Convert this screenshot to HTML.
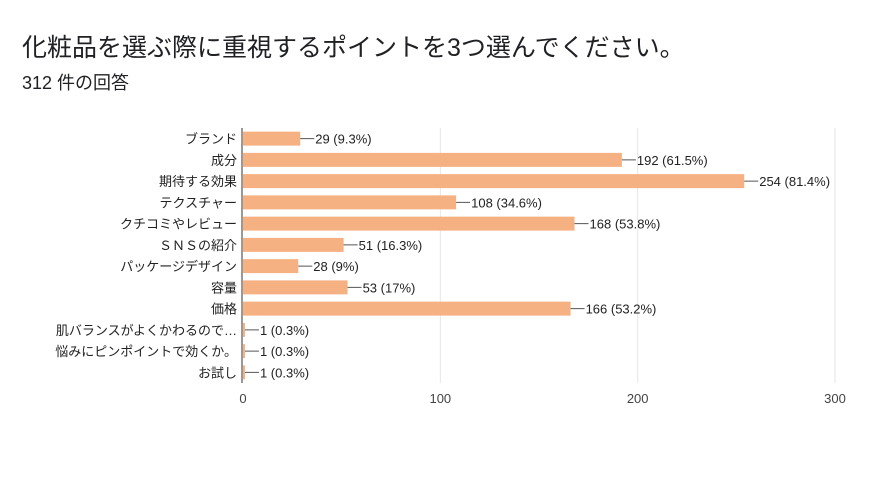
<!DOCTYPE html>
<html><head><meta charset="utf-8"><style>
body{margin:0;background:#fff;font-family:"Liberation Sans","Noto Sans CJK JP",sans-serif;}
#wrap{position:relative;width:880px;height:496px;overflow:hidden;}
</style></head><body><div id="wrap">
<div style="position:absolute;left:22px;top:28px;font-size:25px;color:#202124;white-space:nowrap;">化粧品を選ぶ際に重視するポイントを3つ選んでください。</div>
<div style="position:absolute;left:22px;top:69px;font-size:18px;color:#202124;white-space:nowrap;">312 件の回答</div>
<svg id="chart" width="880" height="496" style="position:absolute;left:0;top:0;font-family:'Liberation Sans','Noto Sans CJK JP',sans-serif;"></svg>
</div>
<script>
const categories=["ブランド","成分","期待する効果","テクスチャー","クチコミやレビュー","ＳＮＳの紹介","パッケージデザイン","容量","価格","肌バランスがよくかわるので…","悩みにピンポイントで効くか。","お試し"];
const values=[29,192,254,108,168,51,28,53,166,1,1,1];
const labels=["29 (9.3%)","192 (61.5%)","254 (81.4%)","108 (34.6%)","168 (53.8%)","51 (16.3%)","28 (9%)","53 (17%)","166 (53.2%)","1 (0.3%)","1 (0.3%)","1 (0.3%)"];
const ticks=[0,100,200,300];
const svg=document.getElementById('chart');const NS='http://www.w3.org/2000/svg';
const x0=243,x1=835,plotTop=128,plotBot=383,maxV=300;
const xs=v=>x0+(x1-x0)*v/maxV;
const step=(plotBot-plotTop)/categories.length;
const yc=i=>plotTop+step*(i+0.5);
function mk(t,a){const e=document.createElementNS(NS,t);for(const k in a)e.setAttribute(k,a[k]);svg.appendChild(e);return e;}
ticks.forEach(t=>{
 if(t>0){const g=mk('line',{x1:xs(t),x2:xs(t),y1:plotTop,y2:plotBot,stroke:'#e6e6e6'});
 
 }
 const l=mk('text',{x:xs(t),y:403,'text-anchor':'middle','font-size':13,fill:'#444'});l.textContent=t;
 
 
});
categories.forEach((c,i)=>{
 const y=yc(i);
 const r=mk('rect',{x:x0,y:y-7,width:Math.max(xs(values[i])-x0,1),height:14,fill:'#f6b183'});
 
 
 const bx=xs(values[i]);
 const ln=mk('line',{x1:bx,x2:bx+14,y1:y,y2:y,stroke:'#555'});
 
 
 const vt=mk('text',{x:bx+15,y:y+5,'font-size':13,fill:'#222'});vt.textContent=labels[i];
 
 
 const ct=mk('text',{x:237,y:y+5,'text-anchor':'end','font-size':13,fill:'#222'});ct.textContent=c;
 
 
});
const ax=mk('line',{x1:242,x2:242,y1:plotTop,y2:plotBot,stroke:'#333'});


</script></body></html>
